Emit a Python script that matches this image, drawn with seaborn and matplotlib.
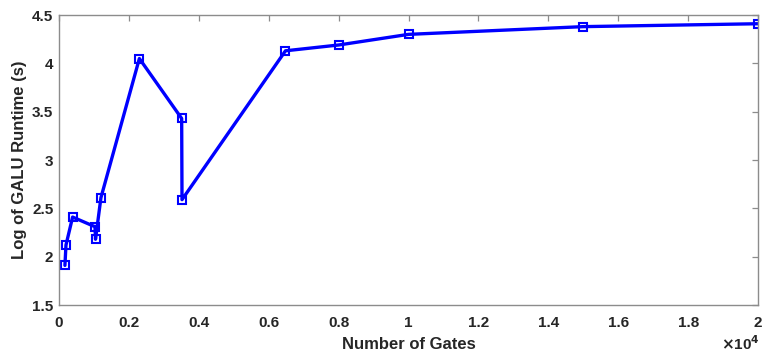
import numpy as np
import pandas as pd
import seaborn as sns
import matplotlib.pyplot as plt
from matplotlib.ticker import FuncFormatter, MultipleLocator

# GALU runtime vs number of gates
gates = [170, 200, 390, 1030, 1045, 1200, 2300, 3510, 3520, 6480, 8000, 10000, 15000, 20000]
log_runtime = [1.91, 2.12, 2.41, 2.31, 2.18, 2.61, 4.05, 3.43, 2.59, 4.13, 4.19, 4.30, 4.38, 4.41]

df = pd.DataFrame({'Gates': gates, 'LogRuntime': log_runtime})

sns.set_style('white')
plt.rcParams['font.family'] = ['Liberation Sans', 'DejaVu Sans']
plt.rcParams['font.weight'] = 'bold'

fig = plt.figure(figsize=(7.62, 3.58), dpi=100)
ax = fig.add_axes([0.0774, 0.148, 0.9174, 0.810])

sns.lineplot(data=df, x='Gates', y='LogRuntime', sort=False, estimator=None,
             color='#0000ff', linewidth=2.4, marker='s', markersize=5.5,
             markerfacecolor='none', markeredgecolor='#0000ff',
             markeredgewidth=1.5, ax=ax)

ax.set_xlim(0, 20000)
ax.set_ylim(1.5, 4.5)
ax.xaxis.set_major_locator(MultipleLocator(2000))
ax.yaxis.set_major_locator(MultipleLocator(0.5))
ax.xaxis.set_major_formatter(FuncFormatter(lambda v, _: f'{v / 1e4:g}'))
ax.yaxis.set_major_formatter(FuncFormatter(lambda v, _: f'{v:g}'))

for s in ax.spines.values():
    s.set_color('#8c8c8c')
    s.set_linewidth(1.0)
ax.tick_params(direction='in', top=True, right=True, length=4, width=0.9,
               color='#8c8c8c', labelsize=11, labelcolor='#262626')
ax.tick_params(axis='x', pad=8)
ax.tick_params(axis='y', pad=4)
for lbl in ax.get_xticklabels() + ax.get_yticklabels():
    lbl.set_fontweight('bold')

ax.set_xlabel('Number of Gates', fontsize=12, fontweight='bold', color='#262626', labelpad=5)
ax.set_ylabel('Log of GALU Runtime (s)', fontsize=12, fontweight='bold', color='#262626', labelpad=4)
ax.text(1.003, -0.165, r'$\times$10$^{4}$', transform=ax.transAxes, ha='right', va='bottom',
        fontsize=11, fontweight='bold', color='#262626')

fig.savefig('out.png', dpi=100)
